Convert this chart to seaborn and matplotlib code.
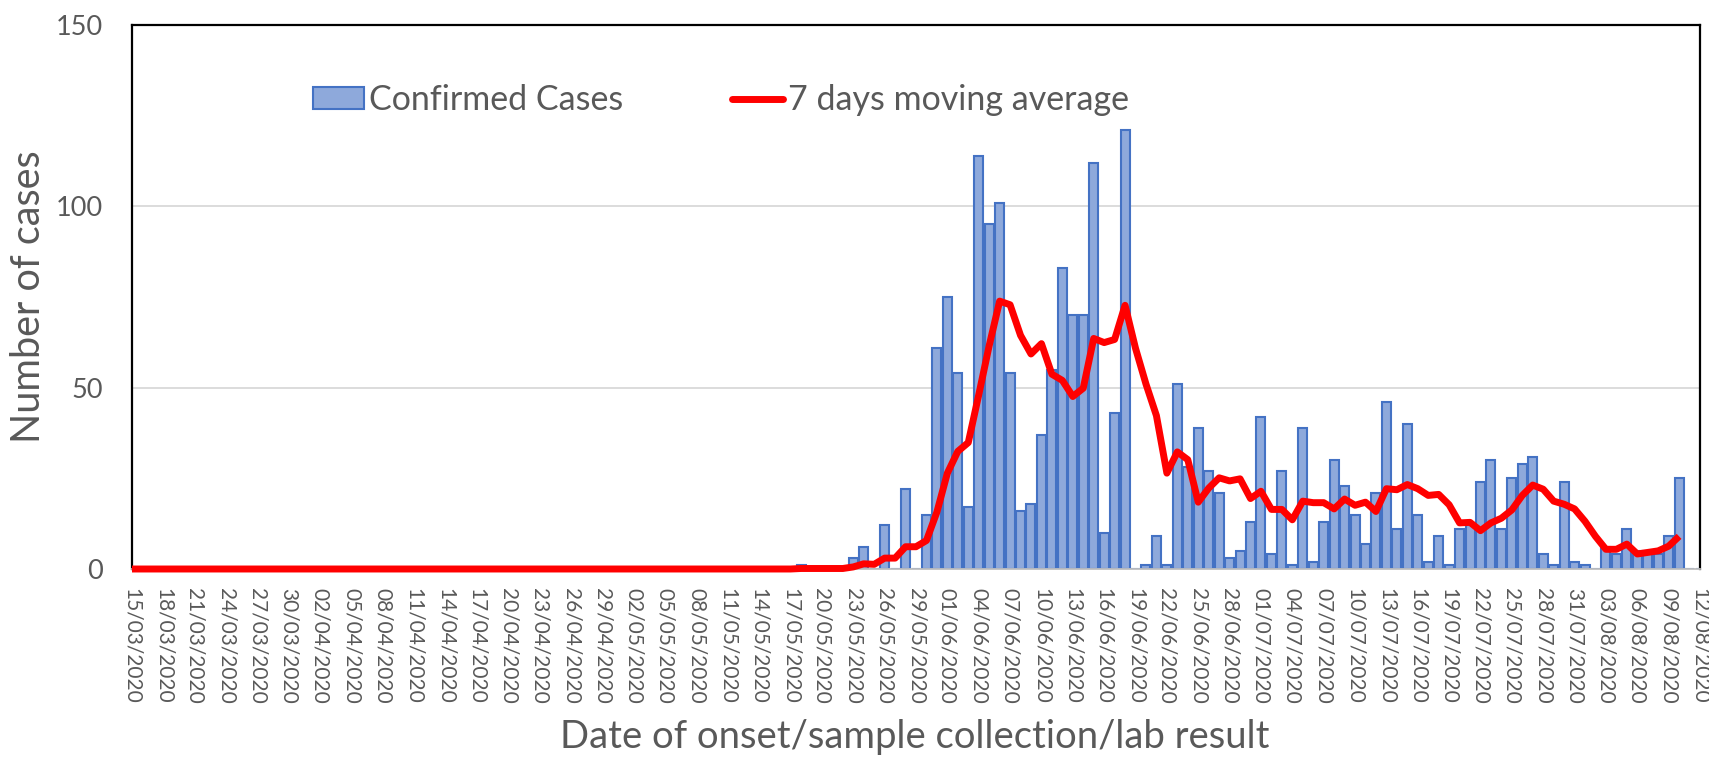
import matplotlib
matplotlib.use("Agg")
import matplotlib.pyplot as plt
from matplotlib.patches import Patch
from matplotlib.lines import Line2D
import seaborn as sns
import pandas as pd

# ---------------- data ----------------
# daily confirmed cases, day 0 = 15/03/2020 ... day 150 = 12/08/2020
cases = [
    0, 0, 0, 0, 0, 0, 0, 0, 0, 0, 0, 0, 0, 0, 0, 0,      # 0-15
    0, 0, 0, 0, 0, 0, 0, 0, 0, 0, 0, 0, 0, 0, 0, 0,      # 16-31
    0, 0, 0, 0, 0, 0, 0, 0, 0, 0, 0, 0, 0, 0, 0, 0,      # 32-47
    0, 0, 0, 0, 0, 0, 0, 0, 0, 0, 0, 0, 0, 0, 0, 0,      # 48-63
    1, 0, 0, 0, 0, 3, 6, 0, 12, 0, 22, 0, 15, 61, 75, 54,  # 64-79
    17, 114, 95, 101, 54, 16, 18, 37, 55, 83, 70, 70, 112, 10, 43, 121,  # 80-95
    0, 1, 9, 1, 51, 28, 39, 27, 21, 3, 5, 13, 42, 4, 27, 1,  # 96-111
    39, 2, 13, 30, 23, 15, 7, 21, 46, 11, 40, 15, 2, 9, 1, 11,  # 112-127
    12, 24, 30, 11, 25, 29, 31, 4, 1, 24, 2, 1, 0, 6, 4, 11,  # 128-143
    5, 5, 4, 9, 25, 0, 0,                                  # 144-150
]

# 7 days moving average, day 0 ... day 148
moving_avg = [
    0, 0, 0, 0, 0, 0, 0, 0, 0, 0, 0, 0, 0, 0, 0, 0,
    0, 0, 0, 0, 0, 0, 0, 0, 0, 0, 0, 0, 0, 0, 0, 0,
    0, 0, 0, 0, 0, 0, 0, 0, 0, 0, 0, 0, 0, 0, 0, 0,
    0, 0, 0, 0, 0, 0, 0, 0, 0, 0, 0, 0, 0, 0, 0, 0,
    0.14, 0.14, 0.14, 0.14, 0.14, 0.57, 1.43, 1.29, 3.0, 3.0, 6.14, 6.14,
    7.86, 15.71, 26.43, 32.43, 34.86, 48.0, 61.57, 73.86, 72.86, 64.43,
    59.29, 62.14, 53.71, 52.0, 47.57, 49.86, 63.57, 62.43, 63.29, 72.71,
    60.86, 51.0, 42.29, 26.43, 32.29, 30.14, 18.43, 22.29, 25.14, 24.29,
    24.86, 19.43, 21.43, 16.43, 16.43, 13.57, 18.71, 18.29, 18.29, 16.57,
    19.29, 17.57, 18.43, 15.86, 22.14, 21.86, 23.29, 22.14, 20.29, 20.57,
    17.71, 12.71, 12.86, 10.57, 12.71, 14.0, 16.29, 20.29, 23.14, 22.0,
    18.71, 17.86, 16.57, 13.14, 9.0, 5.43, 5.43, 6.86, 4.14, 4.57,
    5.0, 6.29, 9.0,
]

tick_labels = [
    "15/03/2020", "18/03/2020", "21/03/2020", "24/03/2020", "27/03/2020",
    "30/03/2020", "02/04/2020", "05/04/2020", "08/04/2020", "11/04/2020",
    "14/04/2020", "17/04/2020", "20/04/2020", "23/04/2020", "26/04/2020",
    "29/04/2020", "02/05/2020", "05/05/2020", "08/05/2020", "11/05/2020",
    "14/05/2020", "17/05/2020", "20/05/2020", "23/05/2020", "26/05/2020",
    "29/05/2020", "01/06/2020", "04/06/2020", "07/06/2020", "10/06/2020",
    "13/06/2020", "16/06/2020", "19/06/2020", "22/06/2020", "25/06/2020",
    "28/06/2020", "01/07/2020", "04/07/2020", "07/07/2020", "10/07/2020",
    "13/07/2020", "16/07/2020", "19/07/2020", "22/07/2020", "25/07/2020",
    "28/07/2020", "31/07/2020", "03/08/2020", "06/08/2020", "09/08/2020",
    "12/08/2020",
]
y_ticks = [0, 50, 100, 150]

bar_label = "Confirmed Cases"
line_label = "7 days moving average"
x_title = "Date of onset/sample collection/lab result"
y_title = "Number of cases"

# ---------------- styling ----------------
sns.set_theme(style="white")
plt.rcParams["font.family"] = ["Lato", "DejaVu Sans"]

BAR_FACE = "#8EA9DB"
BAR_EDGE = "#4472C4"
LINE_RED = "#FF0000"
TEXT_GRAY = "#595959"
GRID_GRAY = "#D9D9D9"
LINE_W = 5.0

fig = plt.figure(figsize=(17.09, 7.57), dpi=100)
W, H = 1709, 757
ax_left, ax_right, ax_top, ax_bottom = 132, 1700, 25, 569
ax = fig.add_axes([ax_left / W, 1 - ax_bottom / H,
                   (ax_right - ax_left) / W, (ax_bottom - ax_top) / H])

bar_df = pd.DataFrame({"day": list(range(len(cases))), "cases": cases})
line_df = pd.DataFrame({"day": list(range(len(moving_avg))), "avg": moving_avg})

sns.barplot(data=bar_df, x="day", y="cases", native_scale=True, width=0.86,
            color=BAR_FACE, saturation=1, edgecolor=BAR_EDGE, linewidth=1.5,
            errorbar=None, ax=ax, zorder=2)
sns.lineplot(data=line_df, x="day", y="avg", color=LINE_RED, linewidth=LINE_W,
             ax=ax, zorder=3, solid_joinstyle="round", solid_capstyle="butt",
             clip_on=False)

ax.set_xlim(0, 150)
ax.set_ylim(0, 150)
ax.set_xticks(list(range(0, 151, 3)))
ax.set_xticklabels(tick_labels, rotation=270, fontsize=15, color=TEXT_GRAY)
ax.set_yticks(y_ticks)
ax.set_yticklabels([str(v) for v in y_ticks], fontsize=19.5, color=TEXT_GRAY)
ax.tick_params(axis="x", length=0, pad=14)
ax.tick_params(axis="y", length=0, pad=21)
for lab in ax.get_xticklabels():
    lab.set_va("top")
    lab.set_ha("center")

ax.set_xlabel("")
ax.set_ylabel("")
ax.set_axisbelow(True)
ax.yaxis.grid(True, color=GRID_GRAY, linewidth=1.3)
ax.xaxis.grid(False)

for side in ["left", "top", "right"]:
    ax.spines[side].set_color("black")
    ax.spines[side].set_linewidth(1.6)
    ax.spines[side].set_visible(True)
ax.spines["bottom"].set_color("#BFBFBF")
ax.spines["bottom"].set_linewidth(1.3)

fig.text(29 / W, 1 - 297 / H, y_title, rotation=90, ha="center", va="center",
         fontsize=28.5, color=TEXT_GRAY)
fig.text(915 / W, 1 - 737 / H, x_title, ha="center", va="center",
         fontsize=27.5, color=TEXT_GRAY)

handles = [
    Patch(facecolor=BAR_FACE, edgecolor=BAR_EDGE, linewidth=1.5, label=bar_label),
    Line2D([0], [0], color=LINE_RED, linewidth=LINE_W, label=line_label),
]
leg = fig.legend(handles=handles, loc="center left",
                 bbox_to_anchor=(313 / W, 1 - 100 / H), ncol=2, frameon=False,
                 fontsize=24.5, handlelength=1.5, handleheight=0.6,
                 handletextpad=0.15, columnspacing=3.2, borderpad=0,
                 borderaxespad=0)
for t in leg.get_texts():
    t.set_color(TEXT_GRAY)

fig.savefig("out.png", dpi=100)
